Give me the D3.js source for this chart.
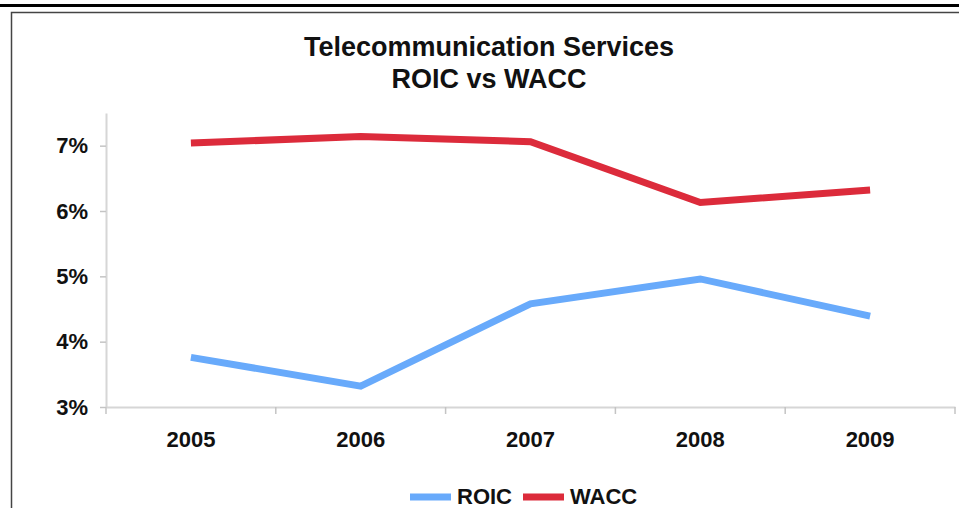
<!DOCTYPE html>
<html>
<head>
<meta charset="utf-8">
<script src="https://cdn.jsdelivr.net/npm/d3@7"></script>
<style>
    html, body { margin: 0; padding: 0; background: #fff; }
    svg text { font-family: "Liberation Sans", Arial, sans-serif; font-weight: bold; fill: #111; }
</style>
</head>
<body>
<div id="chart"></div>
<script>
// 数据
const years = ["2005", "2006", "2007", "2008", "2009"];
const roic = [3.76, 3.32, 4.58, 4.96, 4.39];
const wacc = [7.04, 7.14, 7.06, 6.13, 6.32];
const yTicks = [3, 4, 5, 6, 7];
const seriesNames = ["ROIC", "WACC"];
const seriesColors = ["#68aafb", "#dc2b3b"];

const width = 959;
const height = 508;

const svg = d3.select("#chart")
    .append("svg")
    .attr("width", width)
    .attr("height", height);

// 顶部黑线和外框
svg.append("rect")
    .attr("x", 0).attr("y", 4)
    .attr("width", width).attr("height", 3)
    .attr("fill", "#000");

svg.append("path")
    .attr("d", `M11.5,${height + 5}V12.5H${width + 5}`)
    .attr("fill", "none")
    .attr("stroke", "#444")
    .attr("stroke-width", 1.5);

// 标题
const title = svg.append("text")
    .attr("x", 489)
    .attr("y", 56)
    .attr("text-anchor", "middle")
    .style("font-size", "27px");
title.append("tspan").attr("x", 489).text("Telecommunication Services");
title.append("tspan").attr("x", 489).attr("dy", 32).text("ROIC vs WACC");

// 比例尺
const x = d3.scaleBand()
    .domain(years)
    .range([106, 955])
    .paddingInner(0)
    .paddingOuter(0);

const y = d3.scaleLinear()
    .domain([3, 7.5])
    .range([407, 113]);

// Y轴
const yAxis = svg.append("g")
    .attr("transform", "translate(106,0)")
    .call(d3.axisLeft(y)
        .tickValues(yTicks)
        .tickFormat(d => d + "%")
        .tickSize(6)
        .tickSizeOuter(0)
        .tickPadding(12));
yAxis.select(".domain").attr("stroke", "#d6d6d6").attr("stroke-width", 2);
yAxis.selectAll(".tick line").attr("stroke", "#c4c4c4").attr("stroke-width", 1.5);
yAxis.selectAll(".tick text")
    .style("font-size", "22px")
    .attr("fill", "#111");

// X轴
const xAxis = svg.append("g")
    .attr("transform", "translate(0,407)")
    .call(d3.axisBottom(x).tickSize(0).tickSizeOuter(0).tickPadding(24));
xAxis.select(".domain").attr("stroke", "#d6d6d6").attr("stroke-width", 2);
xAxis.selectAll(".tick text")
    .style("font-size", "22px")
    .attr("fill", "#111");

// X轴刻度（在类别边界）
const boundaries = years.map(d => x(d)).concat([x.range()[1]]);
xAxis.selectAll(".bound")
    .data(boundaries)
    .enter()
    .append("line")
    .attr("class", "bound")
    .attr("x1", d => d).attr("x2", d => d)
    .attr("y1", 0).attr("y2", 7)
    .attr("stroke", "#c4c4c4")
    .attr("stroke-width", 1.5);

// 折线
const line = d3.line()
    .x((d, i) => x(years[i]) + x.bandwidth() / 2)
    .y(d => y(d));

[roic, wacc].forEach((values, i) => {
    svg.append("path")
        .datum(values)
        .attr("d", line)
        .attr("fill", "none")
        .attr("stroke", seriesColors[i])
        .attr("stroke-width", 7)
        .attr("stroke-linejoin", "miter");
});

// 图例
const legendPos = [410, 523];
seriesNames.forEach((name, i) => {
    const g = svg.append("g").attr("transform", `translate(${legendPos[i]},497)`);
    g.append("line")
        .attr("x1", 0).attr("x2", 41)
        .attr("y1", 0).attr("y2", 0)
        .attr("stroke", seriesColors[i])
        .attr("stroke-width", 7);
    g.append("text")
        .attr("x", 47)
        .attr("y", 7)
        .style("font-size", "22px")
        .text(name);
});
</script>
</body>
</html>
